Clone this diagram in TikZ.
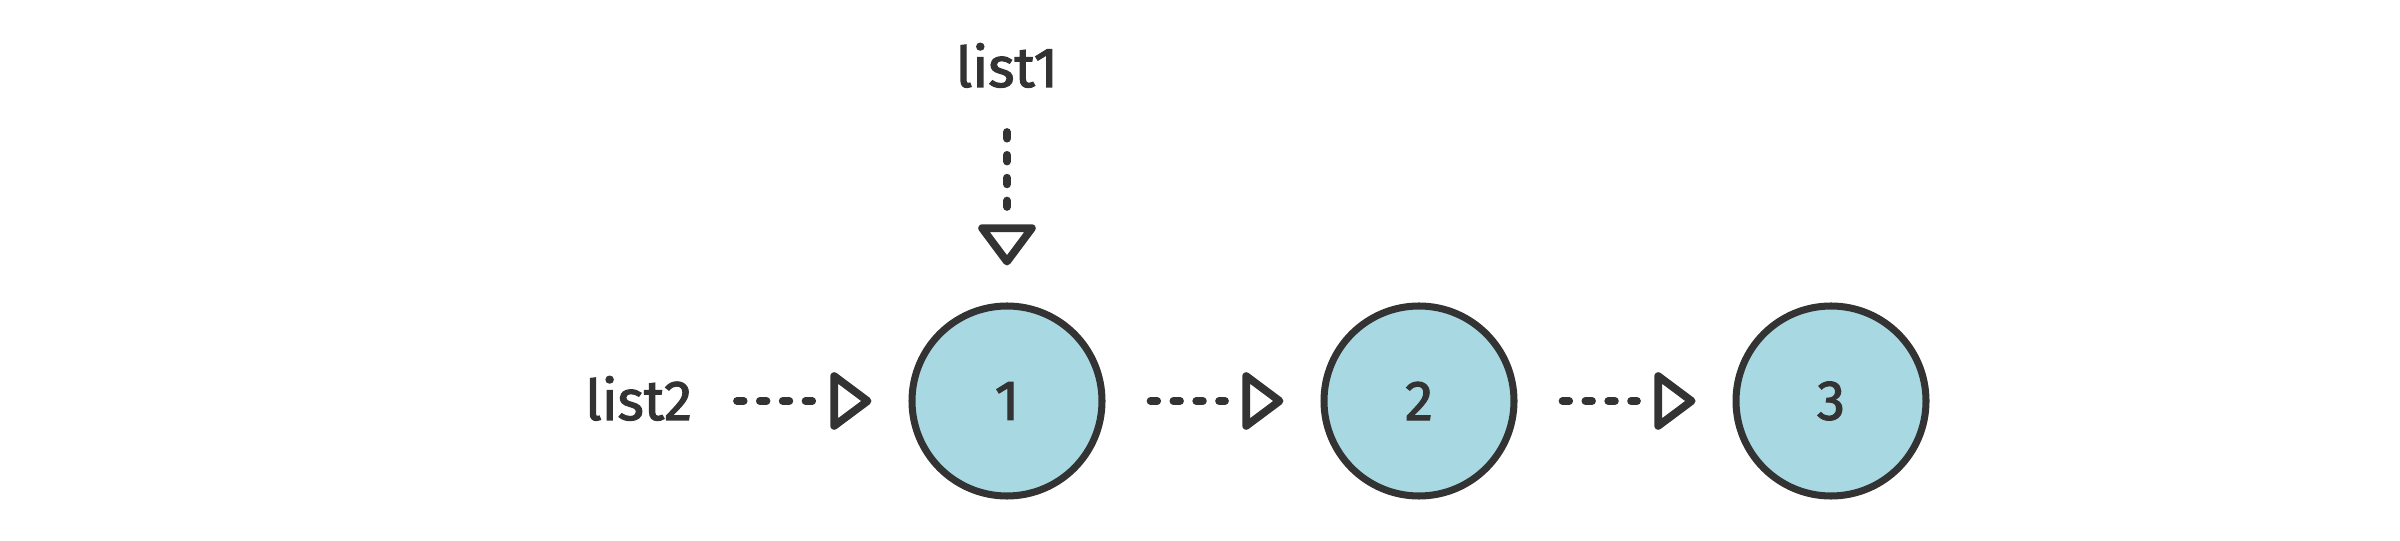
\documentclass[tikz,border=0pt]{standalone}
\usepackage{fontspec}
\setmainfont{Fira Sans}[FakeBold=2]
\usetikzlibrary{arrows, arrows.meta}
\usetikzlibrary{decorations.markings}
\definecolor{nodefill}{HTML}{A8D9E2}
\definecolor{ink}{HTML}{333333}

\begin{document}
\begin{tikzpicture}[
    elem/.style={circle, draw=ink, fill=nodefill, line width=2pt, inner sep=0pt, minimum size=1.9cm, text=ink, font=\fontsize{16}{19}\selectfont},
    ptr/.style={inner sep=0pt, outer sep=0pt, text height=10.8pt, text depth=0pt, text=ink, font=\fontsize{16}{19}\selectfont},
    link/.style={draw=ink, line width=2.2pt, line cap=round, dash pattern=on 1.9pt off 4.6pt,
      shorten <=0.45cm, shorten >=0.955cm,
      postaction={decorate, decoration={markings,
        mark=at position -0.37cm with {\arrow[ink]{Triangle[open, round, length=12.5pt, width=18pt]}}}}}
  ]
      \useasboundingbox (-10.07,-1.39) rectangle (13.93,4.01);

      \node[elem] (1) at (0,0) {1};
      \node[elem] (2) at (4.12,0) {2};
      \node[elem] (3) at (8.24,0) {3};

      \node[ptr, anchor=south] (list1) at (0,3.14) {list1};
      \node[ptr, anchor=east] (list2) at (-3.15,0) {list2};

      \draw[link] (list1) -- (1);
      \draw[link] (list2) -- (1);
      \draw[link] (1) -- (2);
      \draw[link] (2) -- (3);

    \end{tikzpicture}
\end{document}
